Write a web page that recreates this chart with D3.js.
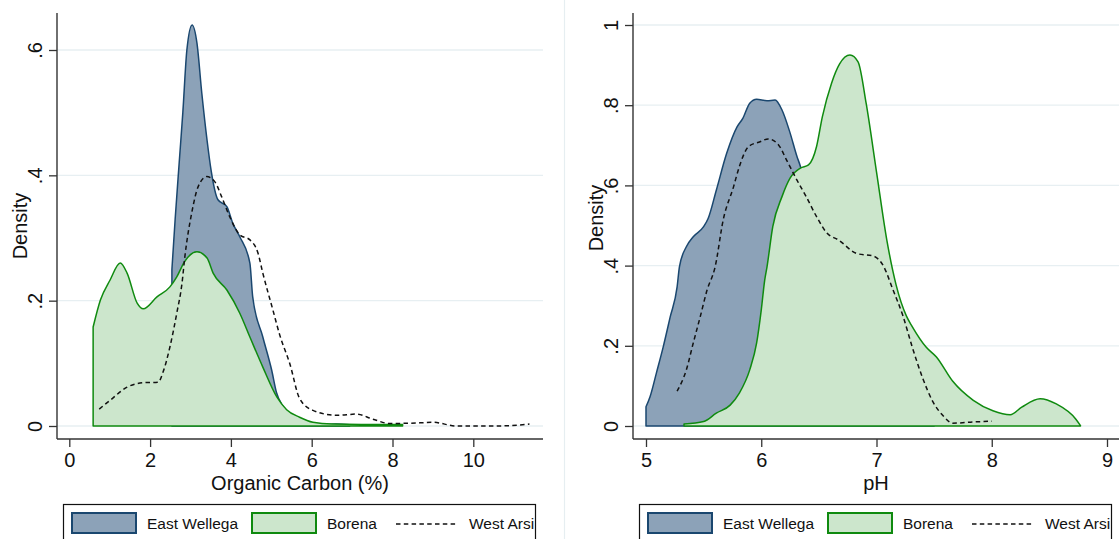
<!doctype html>
<html>
<head>
<meta charset="utf-8">
<style>
    body { margin: 0; background: #fff; }
    svg { display: block; }
    text { font-family: 'Liberation Sans', Arial, sans-serif; fill: #111; }
    .tick line { stroke: #333; stroke-width: 1.3; }
    .title { font-size: 20px; }
    .legend text { font-size: 15.5px; }
    .grid line { stroke: #e7eff2; stroke-width: 1.3; }
    .axisline { stroke: #333; stroke-width: 1.4; }
</style>
<script src="https://d3js.org/d3.v7.min.js"></script>
</head>
<body>
<svg width="1119" height="539"></svg>
<script>
// organic carbon (%) densities, [x, density]
const ocEastWellega = [
    [2.54, 0.25], [2.62, 0.33], [2.72, 0.42], [2.81, 0.50], [2.91, 0.60], [3.04, 0.640],
    [3.16, 0.611], [3.28, 0.531], [3.41, 0.456], [3.51, 0.408], [3.68, 0.361], [3.90, 0.350],
    [4.05, 0.323], [4.22, 0.302], [4.47, 0.26], [4.54, 0.206], [4.79, 0.142], [5.01, 0.089],
    [5.13, 0.053], [5.3, 0.03], [5.5, 0.012], [5.8, 0.004], [6.2, 0.002], [6.6, 0.003], [6.94, 0.002]
]
const ocBorena = [
    [0.59, 0.158], [0.77, 0.201], [1.01, 0.233], [1.26, 0.260], [1.43, 0.244], [1.68, 0.196],
    [1.83, 0.187], [2.17, 0.206], [2.49, 0.222], [2.66, 0.238], [2.85, 0.262], [3.16, 0.278],
    [3.41, 0.268], [3.56, 0.244], [3.90, 0.217], [4.22, 0.180], [4.47, 0.142], [4.79, 0.094],
    [5.14, 0.046], [5.38, 0.026], [5.70, 0.014], [6.03, 0.006], [6.5, 0.003], [7.5, 0.0025], [8.25, 0.0025]
]
const ocWestArsi = [
    [0.74, 0.027], [1.01, 0.041], [1.43, 0.062], [1.83, 0.069], [2.2, 0.070], [2.32, 0.086],
    [2.49, 0.126], [2.66, 0.180], [2.79, 0.228], [2.86, 0.27], [3.03, 0.34], [3.19, 0.382],
    [3.40, 0.398], [3.60, 0.39], [3.77, 0.366], [3.97, 0.334], [4.22, 0.305], [4.47, 0.297],
    [4.67, 0.276], [4.79, 0.244], [5.04, 0.185], [5.21, 0.145], [5.46, 0.099], [5.70, 0.044],
    [6.03, 0.025], [6.62, 0.017], [7.11, 0.019], [7.51, 0.011], [7.93, 0.004], [8.67, 0.005],
    [9.0, 0.006], [9.58, 0.0], [10.57, 0.0], [11.39, 0.003]
]

// pH densities, [x, density]
const phEastWellega = [
    [5.0, 0.048], [5.035, 0.073], [5.09, 0.132], [5.15, 0.198], [5.21, 0.272], [5.27, 0.347],
    [5.29, 0.397], [5.35, 0.447], [5.41, 0.472], [5.50, 0.497], [5.54, 0.518], [5.61, 0.588],
    [5.70, 0.680], [5.79, 0.746], [5.84, 0.767], [5.90, 0.805], [5.96, 0.815], [6.05, 0.811],
    [6.12, 0.813], [6.18, 0.788], [6.25, 0.731], [6.31, 0.672], [6.34, 0.647], [6.4, 0.56],
    [6.5, 0.44], [6.6, 0.33], [6.7, 0.24], [6.8, 0.16], [6.9, 0.10], [7.0, 0.06], [7.2, 0.02],
    [7.4, 0.005], [7.5, 0.001]
]
const phBorena = [
    [5.33, 0.005], [5.50, 0.011], [5.61, 0.032], [5.73, 0.052], [5.81, 0.082], [5.90, 0.140],
    [5.96, 0.207], [6.00, 0.289], [6.03, 0.364], [6.05, 0.397], [6.10, 0.497], [6.18, 0.572],
    [6.25, 0.618], [6.34, 0.643], [6.41, 0.651], [6.48, 0.697], [6.53, 0.771], [6.61, 0.855],
    [6.68, 0.903], [6.77, 0.925], [6.84, 0.908], [6.91, 0.805], [7.00, 0.634], [7.09, 0.463],
    [7.17, 0.352], [7.26, 0.274], [7.31, 0.248], [7.43, 0.197], [7.52, 0.172], [7.66, 0.112],
    [7.84, 0.064], [8.01, 0.038], [8.16, 0.028], [8.26, 0.047], [8.42, 0.068], [8.56, 0.055],
    [8.73, 0.017], [8.77, 0.001]
]
const phWestArsi = [
    [5.27, 0.087], [5.35, 0.140], [5.41, 0.207], [5.47, 0.272], [5.53, 0.339], [5.60, 0.397],
    [5.67, 0.514], [5.76, 0.597], [5.81, 0.647], [5.89, 0.697], [5.99, 0.709], [6.06, 0.716],
    [6.15, 0.701], [6.22, 0.663], [6.31, 0.613], [6.39, 0.572], [6.48, 0.522], [6.57, 0.481],
    [6.67, 0.464], [6.83, 0.430], [6.97, 0.424], [7.06, 0.399], [7.14, 0.342], [7.23, 0.274],
    [7.31, 0.197], [7.40, 0.12], [7.49, 0.060], [7.58, 0.025], [7.66, 0.007], [7.84, 0.010], [8.00, 0.012]
]

const seriesNames = ['East Wellega', 'Borena', 'West Arsi']

const ocXTicks = [0, 2, 4, 6, 8, 10]
const ocYTicks = [0, 0.2, 0.4, 0.6]
const ocYLabels = ['0', '.2', '.4', '.6']
const phXTicks = [5, 6, 7, 8, 9]
const phYTicks = [0, 0.2, 0.4, 0.6, 0.8, 1]
const phYLabels = ['0', '.2', '.4', '.6', '.8', '1']

const blueFill = '#8ca2b8', blueLine = '#1a476f'
const greenFill = '#cce6cc', greenLine = '#0f8a0f'

const svg = d3.select('svg')

// faint border of the second graph region
svg.append('line')
    .attr('x1', 564.5).attr('x2', 564.5).attr('y1', 0).attr('y2', 539)
    .attr('stroke', '#e6eef1').attr('stroke-width', 1.2)

const panels = [
    {
        left: 57, right: 543, top: 13, bottom: 439,
        x: d3.scaleLinear().domain([0, 10]).range([69.3, 473.3]),
        y: d3.scaleLinear().domain([0, 0.6]).range([426, 50]),
        xTicks: ocXTicks, yTicks: ocYTicks, yLabels: ocYLabels,
        title: 'Organic Carbon (%)', densityY: 226,
        ew: ocEastWellega, bo: ocBorena, wa: ocWestArsi
    },
    {
        left: 633, right: 1119, top: 13, bottom: 439,
        x: d3.scaleLinear().domain([5, 9]).range([646, 1107]),
        y: d3.scaleLinear().domain([0, 1]).range([426, 25]),
        xTicks: phXTicks, yTicks: phYTicks, yLabels: phYLabels,
        title: 'pH', densityY: 218,
        ew: phEastWellega, bo: phBorena, wa: phWestArsi
    }
]

panels.forEach((p) => {
    const g = svg.append('g')

    // grid
    g.append('g')
        .attr('class', 'grid')
        .selectAll('line')
        .data(p.yTicks)
        .enter()
        .append('line')
        .attr('x1', p.left).attr('x2', p.right)
        .attr('y1', (d) => p.y(d)).attr('y2', (d) => p.y(d))

    const area = d3.area()
        .x((d) => p.x(d[0]))
        .y0(p.y(0))
        .y1((d) => p.y(d[1]))
        .curve(d3.curveMonotoneX)

    const line = d3.line()
        .x((d) => p.x(d[0]))
        .y((d) => p.y(d[1]))
        .curve(d3.curveMonotoneX)

    g.append('path')
        .attr('d', area(p.ew))
        .attr('fill', blueFill)
        .attr('stroke', blueLine)
        .attr('stroke-width', 1.5)
        .attr('stroke-linejoin', 'round')

    g.append('path')
        .attr('d', area(p.bo))
        .attr('fill', greenFill)
        .attr('stroke', greenLine)
        .attr('stroke-width', 1.5)
        .attr('stroke-linejoin', 'round')

    g.append('path')
        .attr('d', line(p.wa))
        .attr('fill', 'none')
        .attr('stroke', '#111')
        .attr('stroke-width', 1.5)
        .attr('stroke-dasharray', '4.5 3.3')

    // axes
    const yAxis = g.append('g')
        .attr('transform', `translate(${p.left}, 0)`)
        .call(d3.axisLeft(p.y)
            .tickValues(p.yTicks)
            .tickSize(8)
            .tickFormat((d, i) => p.yLabels[i]))
    yAxis.select('.domain').remove()
    yAxis.selectAll('text')
        .attr('transform', 'rotate(-90)')
        .attr('x', 0)
        .attr('y', -15)
        .attr('dy', 0)
        .attr('text-anchor', 'middle')
        .style('font-family', "'Liberation Sans', Arial, sans-serif")
        .style('font-size', '20px')
        .attr('fill', '#111')

    const xAxis = g.append('g')
        .attr('transform', `translate(0, ${p.bottom})`)
        .call(d3.axisBottom(p.x)
            .tickValues(p.xTicks)
            .tickSize(8)
            .tickFormat(d3.format('d')))
    xAxis.select('.domain').remove()
    xAxis.selectAll('text')
        .attr('y', 28)
        .attr('dy', 0)
        .style('font-family', "'Liberation Sans', Arial, sans-serif")
        .style('font-size', '20px')
        .attr('fill', '#111')

    g.append('line').attr('class', 'axisline')
        .attr('x1', p.left).attr('x2', p.left).attr('y1', p.top).attr('y2', p.bottom)
    g.append('line').attr('class', 'axisline')
        .attr('x1', p.left).attr('x2', p.right).attr('y1', p.bottom).attr('y2', p.bottom)

    g.append('text')
        .attr('class', 'title')
        .attr('x', (p.left + p.right) / 2)
        .attr('y', 490)
        .attr('text-anchor', 'middle')
        .text(p.title)

    g.append('text')
        .attr('class', 'title')
        .attr('transform', `translate(${p.left - 30}, ${p.densityY}) rotate(-90)`)
        .attr('text-anchor', 'middle')
        .text('Density')

    // legend
    const lx = p.left + 6
    const leg = g.append('g').attr('class', 'legend')
    leg.append('rect')
        .attr('x', lx + 0.5).attr('y', 504.5)
        .attr('width', p.right - p.left - 14).attr('height', 50)
        .attr('fill', '#fff').attr('stroke', '#111').attr('stroke-width', 1.2)

    leg.append('rect')
        .attr('x', lx + 9).attr('y', 513).attr('width', 64).attr('height', 20)
        .attr('fill', blueFill).attr('stroke', blueLine).attr('stroke-width', 2)
    leg.append('text').attr('x', lx + 84).attr('y', 529).text(seriesNames[0])

    leg.append('rect')
        .attr('x', lx + 189).attr('y', 513).attr('width', 64).attr('height', 20)
        .attr('fill', greenFill).attr('stroke', greenLine).attr('stroke-width', 2)
    leg.append('text').attr('x', lx + 264).attr('y', 529).text(seriesNames[1])

    leg.append('line')
        .attr('x1', lx + 333).attr('x2', lx + 394).attr('y1', 524).attr('y2', 524)
        .attr('stroke', '#111').attr('stroke-width', 1.5).attr('stroke-dasharray', '4.5 3.3')
    leg.append('text').attr('x', lx + 406).attr('y', 529).text(seriesNames[2])
})
</script>
</body>
</html>
